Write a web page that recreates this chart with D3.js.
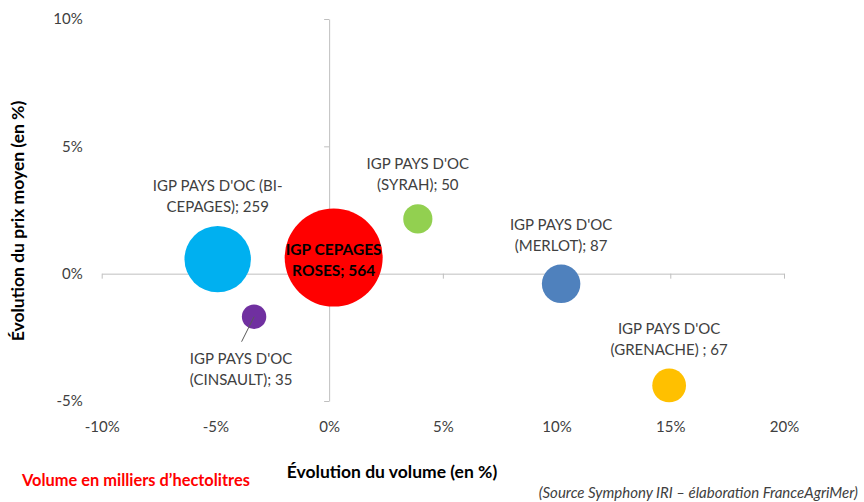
<!DOCTYPE html>
<html>
<head>
<meta charset="utf-8">
<script src="https://cdn.jsdelivr.net/npm/d3@7"></script>
<style>
  html, body { margin: 0; padding: 0; background: #fff; }
  svg { display: block; font-family: Lato, "Open Sans", sans-serif; }
</style>
</head>
<body>
<svg id="chart" width="864" height="502"></svg>
<script>
// ---- Data ----
const seriesNames = [
  "IGP PAYS D'OC (BI-CEPAGES)",
  "IGP CEPAGES ROSES",
  "IGP PAYS D'OC (SYRAH)",
  "IGP PAYS D'OC (MERLOT)",
  "IGP PAYS D'OC (GRENACHE)",
  "IGP PAYS D'OC (CINSAULT)"
];
const volumeEvolution = [-0.049, 0.002, 0.039, 0.102, 0.1495, -0.033];
const priceEvolution  = [0.0057, 0.0063, 0.0215, -0.0040, -0.0439, -0.0169];
const volumes         = [259, 564, 50, 87, 67, 35];
const labelLines = [
  ["IGP PAYS D'OC (BI-", "CEPAGES); 259"],
  ["IGP CEPAGES", "ROSES; 564"],
  ["IGP PAYS D'OC", "(SYRAH); 50"],
  ["IGP PAYS D'OC", "(MERLOT); 87"],
  ["IGP PAYS D'OC", "(GRENACHE) ; 67"],
  ["IGP PAYS D'OC", "(CINSAULT); 35"]
];
const xTicks = [-0.10, -0.05, 0, 0.05, 0.10, 0.15, 0.20];
const yTicks = [-0.05, 0, 0.05, 0.10];
const xTitle = "Évolution du volume (en %)";
const yTitle = "Évolution du prix moyen (en %)";
const noteText = "Volume en milliers d’hectolitres";
const sourceText = "(Source Symphony IRI – élaboration FranceAgriMer)";

// ---- Styles ----
const colors = ["#00B0F0", "#FF0000", "#92D050", "#4F81BD", "#FFC000", "#7030A0"];
const placement = ["above", "center", "above", "above", "above", "below"];
const axisColor = "#BFBFBF";
const textColor = "#404040";

const svg = d3.select("#chart");
const x = d3.scaleLinear().domain([-0.10, 0.20]).range([101.7, 784]);
const y = d3.scaleLinear().domain([-0.05, 0.10]).range([401, 19]);
const r = d3.scaleSqrt().domain([0, 564]).range([0, 49]);
const pct = d3.format(".0%");
const fmt = v => pct(v).replace("\u2212", "-");

// axis lines with ticks (crossing at 0)
const gxLine = svg.append("g").attr("transform", `translate(0,${y(0)})`)
  .call(d3.axisBottom(x).tickValues(xTicks).tickSize(5).tickSizeOuter(0).tickFormat(""));
const gyLine = svg.append("g").attr("transform", `translate(${x(0)},0)`)
  .call(d3.axisLeft(y).tickValues(yTicks).tickSize(5).tickSizeOuter(0).tickFormat(""));
[gxLine, gyLine].forEach(g => {
  g.selectAll("path, line").attr("stroke", axisColor).attr("stroke-width", 1);
});

// tick labels at low position
const gxLab = svg.append("g").attr("transform", `translate(0,${y(-0.05)})`)
  .call(d3.axisBottom(x).tickValues(xTicks).tickSize(0).tickPadding(20).tickFormat(fmt));
const gyLab = svg.append("g").attr("transform", `translate(${x(-0.10)},0)`)
  .call(d3.axisLeft(y).tickValues(yTicks).tickSize(0).tickPadding(19).tickFormat(fmt));
[gxLab, gyLab].forEach(g => {
  g.select(".domain").remove();
  g.selectAll("text").attr("fill", textColor).style("font-size", "15px")
    .style("font-family", "Lato, 'Open Sans', sans-serif");
});

// data
const data = seriesNames.map((n, i) => ({
  name: n, vx: volumeEvolution[i], vy: priceEvolution[i], vol: volumes[i],
  lines: labelLines[i], color: colors[i], place: placement[i]
}));

svg.append("g").selectAll("circle").data(data).join("circle")
  .attr("cx", d => x(d.vx)).attr("cy", d => y(d.vy)).attr("r", d => r(d.vol))
  .attr("fill", d => d.color);

// leader line (Cinsault)
data.filter(d => d.place === "below").forEach(d => {
  svg.append("line")
    .attr("x1", x(d.vx)).attr("y1", y(d.vy))
    .attr("x2", x(d.vx) - 12.5).attr("y2", y(d.vy) + 25)
    .attr("stroke", "#595959").attr("stroke-width", 1);
});

// labels
const lineH = 21;
data.forEach(d => {
  const cx = x(d.vx), cy = y(d.vy), rr = r(d.vol);
  let cxText = cx, firstBaseline;
  if (d.place === "above") {
    firstBaseline = cy - rr - 14 - lineH;
  } else if (d.place === "center") {
    firstBaseline = cy - 3;
  } else {
    cxText = cx - 13;
    firstBaseline = cy + 47;
  }
  const t = svg.append("text")
    .attr("text-anchor", "middle")
    .style("font-size", d.place === "center" ? "15.5px" : "15px")
    .attr("fill", d.place === "center" ? "#000" : textColor)
    .style("font-weight", d.place === "center" ? "bold" : "normal");
  d.lines.forEach((ln, k) => {
    t.append("tspan").attr("x", cxText).attr("y", firstBaseline + k * lineH).text(ln);
  });
});

// titles
svg.append("text")
  .attr("x", 392).attr("y", 478)
  .attr("text-anchor", "middle")
  .style("font-size", "17.5px").style("font-weight", "bold").attr("fill", "#000")
  .text(xTitle);

svg.append("text")
  .attr("transform", `translate(24,221) rotate(-90)`)
  .attr("text-anchor", "middle")
  .style("font-size", "17.5px").style("font-weight", "bold").attr("fill", "#000")
  .text(yTitle);

svg.append("text")
  .attr("x", 22).attr("y", 486)
  .style("font-size", "16.4px").style("font-weight", "bold").attr("fill", "#FF0000")
  .text(noteText);

svg.append("text")
  .attr("x", 858).attr("y", 498)
  .attr("text-anchor", "end")
  .style("font-size", "15px").style("font-style", "italic").attr("fill", textColor)
  .text(sourceText);
</script>
</body>
</html>
